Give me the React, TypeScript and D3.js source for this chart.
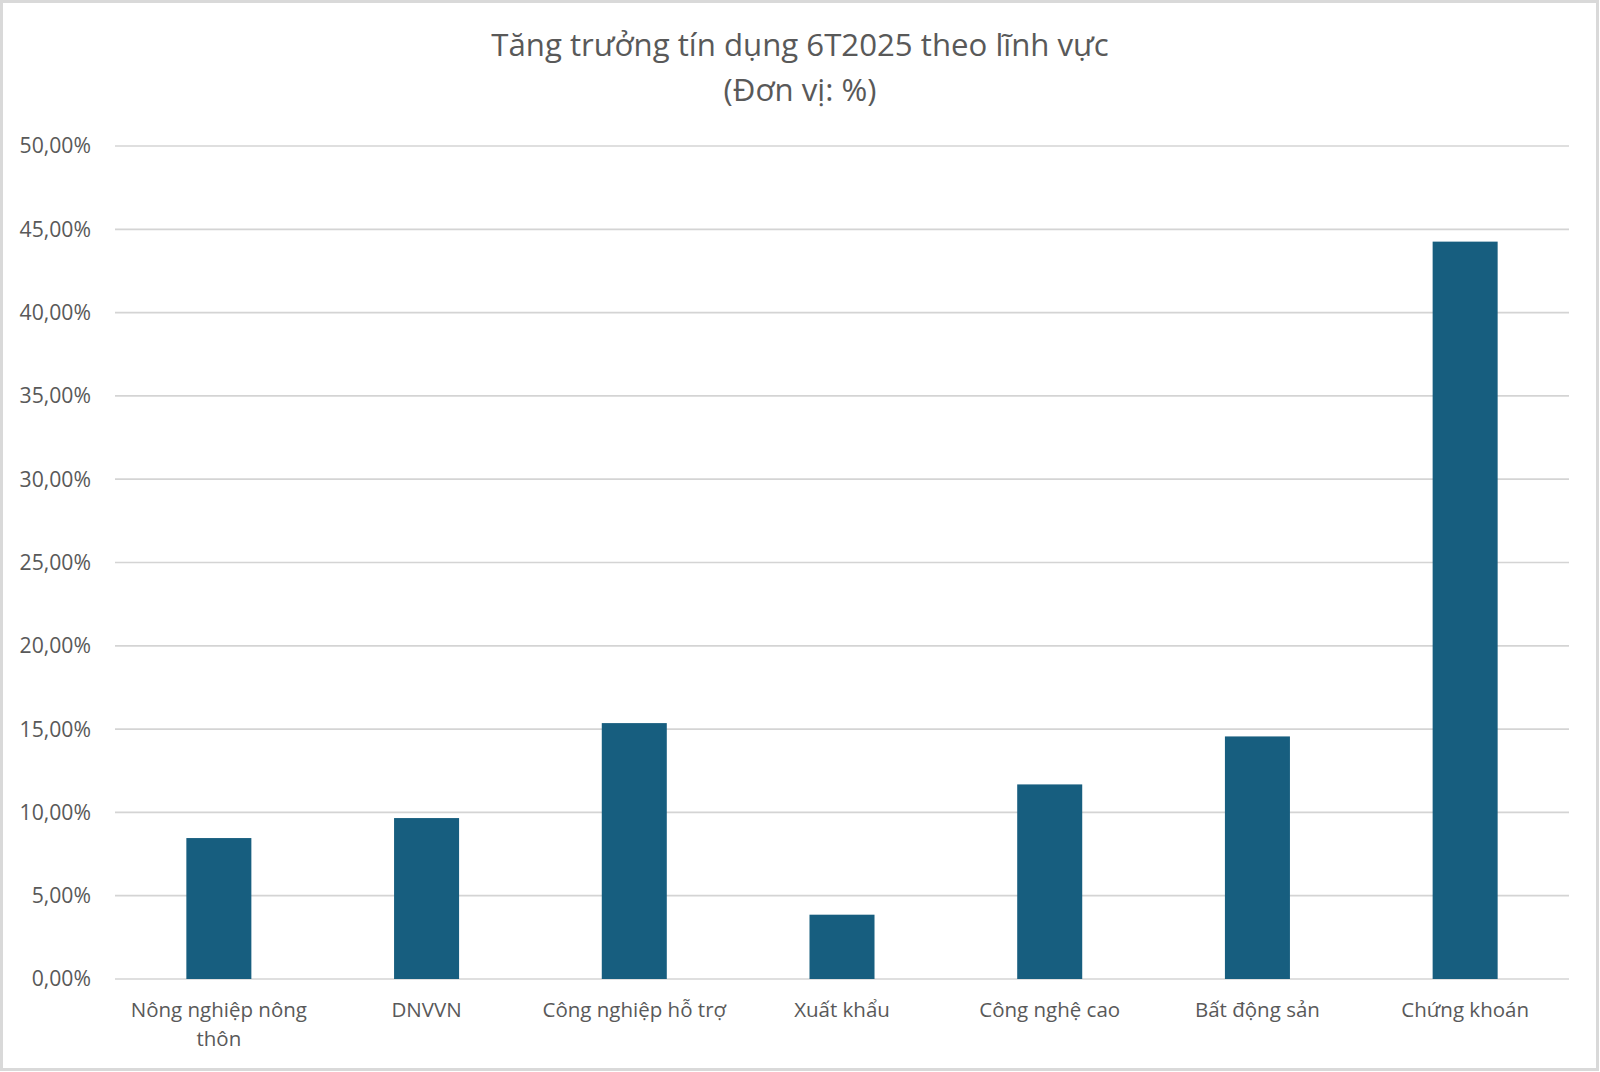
import { useEffect, useRef } from "react"
import * as d3 from "d3"

const categories = [
  "Nông nghiệp nông thôn",
  "DNVVN",
  "Công nghiệp hỗ trợ",
  "Xuất khẩu",
  "Công nghệ cao",
  "Bất động sản",
  "Chứng khoán",
]
const growth = [8.46, 9.66, 15.36, 3.86, 11.68, 14.56, 44.26]
const yTicks = [0, 5, 10, 15, 20, 25, 30, 35, 40, 45, 50]
const titleLines = ["Tăng trưởng tín dụng 6T2025 theo lĩnh vực", "(Đơn vị: %)"]

const W = 1600
const H = 1072
const FONT = "'Open Sans', 'Noto Sans', sans-serif"
const TEXT = "#595959"

export default function App() {
  const svgRef = useRef<SVGSVGElement>(null)

  useEffect(() => {
    document.body.style.margin = "0"
    if (!svgRef.current) return
    const svg = d3.select(svgRef.current)
    svg.selectAll("*").remove()

    const margin = { top: 146, right: 31, bottom: 93, left: 115 }
    const innerW = W - margin.left - margin.right
    const innerH = H - margin.top - margin.bottom

    // outer frame
    svg
      .append("rect")
      .attr("x", 1.5)
      .attr("y", 1.5)
      .attr("width", W - 4)
      .attr("height", H - 4)
      .attr("fill", "#fff")
      .attr("stroke", "#d9d9d9")
      .attr("stroke-width", 3)

    // title
    svg
      .append("text")
      .attr("text-anchor", "middle")
      .attr("fill", TEXT)
      .attr("font-family", FONT)
      .attr("font-size", "31.2px")
      .selectAll("tspan")
      .data(titleLines)
      .enter()
      .append("tspan")
      .attr("x", W / 2)
      .attr("y", (_, i) => 56 + i * 45)
      .text((d) => d)

    const x = d3
      .scaleBand()
      .domain(categories)
      .range([0, innerW])
      .paddingInner(0.687)
      .paddingOuter(0.3435)

    const y = d3.scaleLinear().domain([0, 50]).range([innerH, 0])

    const g = svg.append("g").attr("transform", `translate(${margin.left},${margin.top})`)

    // grid lines
    g.selectAll(".grid")
      .data(yTicks)
      .enter()
      .append("line")
      .attr("x1", 0)
      .attr("x2", innerW)
      .attr("y1", (d) => y(d))
      .attr("y2", (d) => y(d))
      .attr("stroke", "#d4d4d4")
      .attr("stroke-width", 1.7)

    // y labels
    g.selectAll(".ylab")
      .data(yTicks)
      .enter()
      .append("text")
      .attr("x", -24)
      .attr("y", (d) => y(d))
      .attr("dy", "0.35em")
      .attr("text-anchor", "end")
      .attr("fill", TEXT)
      .attr("font-family", FONT)
      .attr("font-size", "21.2px")
      .text((d) => d3.format(".2f")(d).replace(".", ",") + "%")

    // bars
    g.selectAll(".bar")
      .data(growth)
      .enter()
      .append("rect")
      .attr("x", (_, i) => x(categories[i]) || 0)
      .attr("y", (d) => y(d))
      .attr("width", x.bandwidth())
      .attr("height", (d) => innerH - y(d))
      .attr("fill", "#175e7f")

    // x labels, wrapped to the category width
    const maxW = x.step() - 14
    categories.forEach((cat) => {
      const cx = (x(cat) || 0) + x.bandwidth() / 2
      const t = g
        .append("text")
        .attr("text-anchor", "middle")
        .attr("fill", TEXT)
        .attr("font-family", FONT)
        .attr("font-size", "20.5px")
      const words = cat.split(" ")
      let line: string[] = []
      let lineNo = 0
      let tspan = t.append("tspan").attr("x", cx).attr("y", innerH + 38)
      words.forEach((w) => {
        line.push(w)
        tspan.text(line.join(" "))
        if ((tspan.node() as SVGTSpanElement).getComputedTextLength() > maxW && line.length > 1) {
          line.pop()
          tspan.text(line.join(" "))
          line = [w]
          lineNo++
          tspan = t
            .append("tspan")
            .attr("x", cx)
            .attr("y", innerH + 38 + lineNo * 29)
            .text(w)
        }
      })
    })

    return () => {
      svg.selectAll("*").remove()
    }
  }, [])

  return <svg ref={svgRef} width={W} height={H} style={{ display: "block" }} />
}
